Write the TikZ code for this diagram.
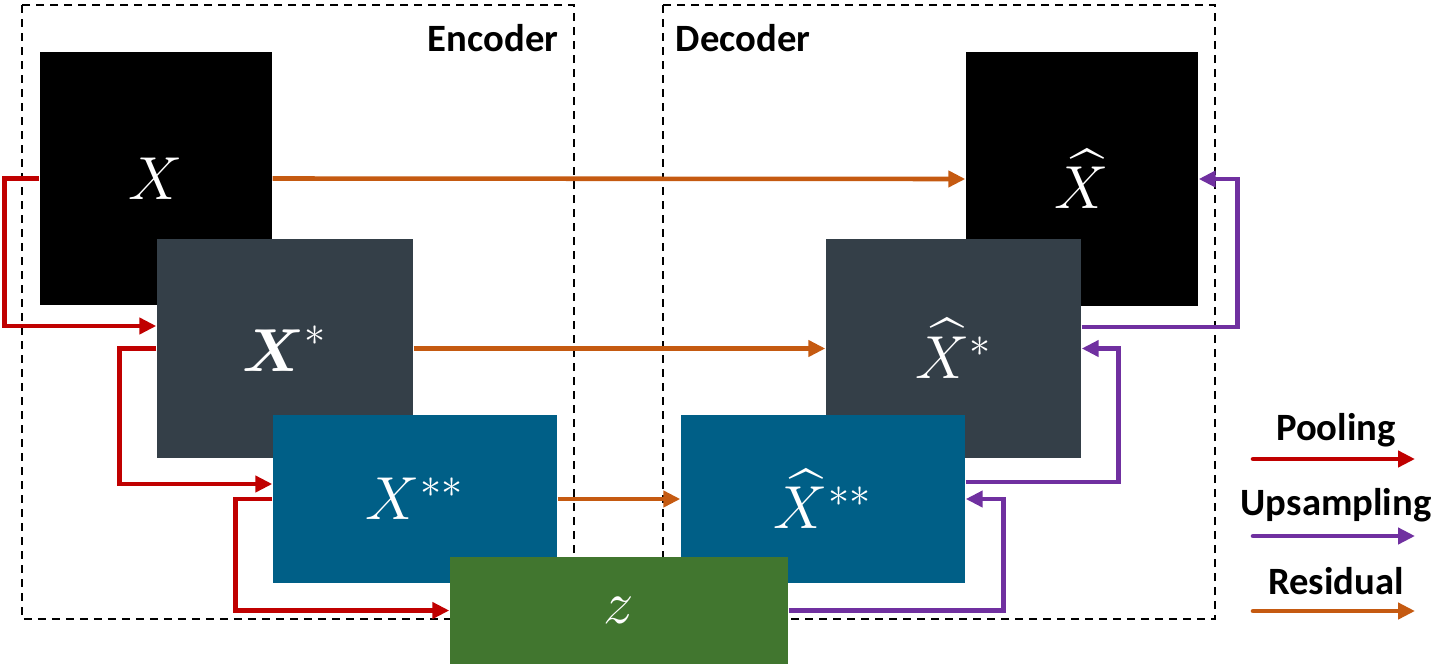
\documentclass[tikz,border=0pt]{standalone}
\usepackage{amsmath}
\usepackage{fontspec}
\setmainfont{Carlito}
\usetikzlibrary{arrows.meta}

\definecolor{slate}{HTML}{343F48}
\definecolor{deepblue}{HTML}{005F87}
\definecolor{leaf}{HTML}{41762F}
\definecolor{poolred}{HTML}{C00000}
\definecolor{upviolet}{HTML}{7030A0}
\definecolor{resorange}{HTML}{C55A11}

\begin{document}
\begin{tikzpicture}[block/.style={rectangle, inner sep=0pt, text=white,
    font=\fontsize{17}{20}\selectfont},
    frame/.style={draw, dash pattern=on 0.08cm off 0.06cm, line width=0.6pt},
    link/.style={line width=1.3pt, -{Triangle[length=0.17cm,width=0.16cm]}},
    pooling/.style={link, draw=poolred},
    upsampling/.style={link, draw=upviolet},
    residual/.style={link, draw=resorange},
    tag/.style={font=\bfseries\fontsize{11}{13}\selectfont}]
    \useasboundingbox (0,0) rectangle (14.53,-6.64);
    \draw[frame] (0.22,-0.05) rectangle (5.74,-6.19);
    \draw[frame] (6.63,-0.05) rectangle (12.15,-6.19);
    \node[tag] (enc) at (4.93,-0.38) {Encoder};
    \node[tag] (dec) at (7.43,-0.38) {Decoder};
    \node[block, fill=black, minimum width=2.32cm, minimum height=2.53cm] (x) at (1.56,-1.785) {$X$};
    \node[block, fill=slate, minimum width=2.56cm, minimum height=2.19cm] (xs) at (2.85,-3.485) {$\boldsymbol{X}^*$};
    \node[block, fill=deepblue, minimum width=2.84cm, minimum height=1.68cm] (xss) at (4.15,-4.99) {$X^{**}$};
    \node[block, fill=black, minimum width=2.32cm, minimum height=2.54cm] (xh) at (10.82,-1.79) {$\widehat{X}$};
    \node[block, fill=slate, minimum width=2.55cm, minimum height=2.19cm] (xhs) at (9.535,-3.485) {$\widehat{X}^*$};
    \node[block, fill=deepblue, minimum width=2.84cm, minimum height=1.68cm] (xhss) at (8.23,-4.99) {$\widehat{X}^{**}$};
    \node[block, fill=leaf, minimum width=3.38cm, minimum height=1.07cm] (z) at (6.19,-6.105) {$z$};
    % residual
    \draw[residual] (x.east) -- (xh.west);
    \draw[residual] (xs.east) -- (xhs.west);
    \draw[residual] (xss.east) -- (xhss.west);
    % pooling
    \draw[pooling] (x.west) -- ++(-0.35,0) |- ([yshift=0.225cm]xs.west);
    \draw[pooling] (xs.west) -- ++(-0.37,0) |- ([yshift=0.15cm]xss.west);
    \draw[pooling] (xss.west) -- ++(-0.37,0) |- (z.west);
    % upsampling
    \draw[upsampling] (z.east) -- ++(2.15,0) |- (xhss.east);
    \draw[upsampling] ([yshift=0.17cm]xhss.east) -- ++(1.53,0) |- (xhs.east);
    \draw[upsampling] ([yshift=0.215cm]xhs.east) -- ++(1.56,0) |- (xh.east);
    % legend
    \node[tag] (lpool) at (13.36,-4.30) {Pooling};
    \node[tag] (lup) at (13.36,-5.05) {Upsampling};
    \node[tag] (lres) at (13.36,-5.81) {Residual};
    \coordinate (pa) at (12.53,-4.59); \coordinate (pb) at (14.15,-4.59);
    \coordinate (ua) at (12.53,-5.36); \coordinate (ub) at (14.15,-5.36);
    \coordinate (ra) at (12.53,-6.11); \coordinate (rb) at (14.15,-6.11);
    \draw[pooling, line cap=round] (pa) -- (pb);
    \draw[upsampling, line cap=round] (ua) -- (ub);
    \draw[residual, line cap=round] (ra) -- (rb);
\end{tikzpicture}
\end{document}
